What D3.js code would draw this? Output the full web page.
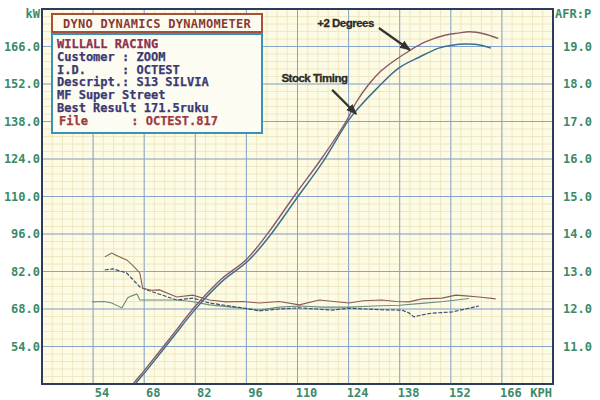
<!DOCTYPE html>
<html><head><meta charset="utf-8">
<script src="https://cdn.jsdelivr.net/npm/d3@7"></script>
<style>
html,body{margin:0;padding:0;background:#fff;}
svg{display:block;}
</style></head>
<body>
<svg id="c" width="600" height="400"></svg>
<script>
// ---- data ----
const kphTicks = [54, 68, 82, 96, 110, 124, 138, 152, 166];
const kwTicks = [54, 68, 82, 96, 110, 124, 138, 152, 166];
const afrTicks = [11, 12, 13, 14, 15, 16, 17, 18, 19];

const powerPlus2 = [[64,37],[65,40],[68,45],[75,57],[82,69],[89,79],[96,86.5],[102,96.5],[109,110],[116.5,124],[123.3,138],[126,145],[129.6,152],[133,157],[136,160.2],[141,164.7],[145,167.7],[150.6,170.3],[154,171],[157,171.5],[159,171.3],[162,170.4],[165,169]];
const powerStock = [[64.6,37],[65.6,40],[68.6,45],[75.6,57],[82.5,68.7],[89.5,78.5],[96.5,86],[102.5,95.5],[109.5,108.8],[117,123],[124,138.5],[127,143.5],[131.5,150],[137.8,158],[143.3,162],[148.7,165.4],[152.3,166.5],[156.1,166.9],[160,166.6],[163,165.4]];

const afrA = [[57.2,13.39],[59.1,13.49],[61,13.4],[63.2,13.31],[65,13.15],[66.8,12.96],[67.6,12.55],[70,12.5],[72.2,12.51],[76.9,12.32],[81.3,12.37],[85.9,12.24],[90.5,12.19],[95,12.2],[99.6,12.16],[105,12.2],[110.5,12.11],[116,12.24],[120,12.2],[124.1,12.16],[128,12.22],[133.2,12.24],[137,12.2],[140.5,12.19],[144.1,12.27],[149.6,12.29],[153.4,12.37],[156.1,12.35],[159.7,12.32],[164.3,12.27]];
const afrB = [[57.2,13.04],[59.4,13.07],[63.2,12.96],[66.8,12.59],[68.7,12.51],[72,12.4],[76.9,12.24],[81.3,12.29],[85.9,12.16],[90,12.1],[94.9,12.03],[99.6,11.95],[105,12.0],[110.5,12.03],[115,12.0],[119.5,11.97],[124,12.02],[128.8,12.0],[133,11.98],[138.6,11.97],[140.5,11.9],[141.9,11.79],[144,11.84],[146.8,11.89],[152.3,11.92],[156,12.0],[159.7,12.08]];
const afrC = [[53.7,12.19],[57,12.2],[59.1,12.16],[61.9,12.03],[63.5,12.3],[64.6,12.35],[66,12.4],[66.8,12.24],[70.3,12.24],[76.9,12.24],[81,12.2],[85.9,12.11],[92,12.05],[99.6,11.97],[105,12.05],[110.5,12.08],[117,12.05],[124,12.05],[131,12.08],[138,12.1],[144,12.15],[150,12.2],[157,12.28]];

const infoLines = [
  {t:"WILLALL RACING", c:"#8c3050"},
  {t:"Customer : ZOOM", c:"#3a3a72"},
  {t:"I.D.     : OCTEST", c:"#3a3a72"},
  {t:"Descript.: S13 SILVIA", c:"#3a3a72"},
  {t:"MF Super Street", c:"#3a3a72"},
  {t:"Best Result 171.5ruku", c:"#3a3a72"},
  {t:"File      : OCTEST.817", c:"#9a3a40"}
];

// ---- layout ----
const W = 600, H = 400;
const m = {l:42, r:47, t:9, b:16};
const svg = d3.select("#c");
const x = d3.scaleLinear().domain([40,180]).range([m.l, W-m.r]);
const y = d3.scaleLinear().domain([40,180]).range([H-m.b, m.t]);
const yR = d3.scaleLinear().domain([10,20]).range([H-m.b, m.t]);
const mono = "'DejaVu Sans Mono', 'Liberation Mono', monospace";
const green = "#3a8a68";

svg.append("rect").attr("x",m.l).attr("y",m.t).attr("width",x(180)-x(40)).attr("height",y(40)-y(180)).attr("fill","#fdfbe4");

// minor grid
const minorX = d3.range(40, 180.01, 2.8).map(v=>+v.toFixed(2));
const minorY = d3.range(40, 180.01, 2.8).map(v=>+v.toFixed(2));
const g = svg.append("g");
g.selectAll("line.mx").data(minorX).join("line").attr("x1",d=>x(d)).attr("x2",d=>x(d)).attr("y1",m.t).attr("y2",H-m.b).attr("stroke","#e8e4bc").attr("stroke-width",0.8);
g.selectAll("line.my").data(minorY).join("line").attr("y1",d=>y(d)).attr("y2",d=>y(d)).attr("x1",m.l).attr("x2",W-m.r).attr("stroke","#e8e4bc").attr("stroke-width",0.8);
// major grid
g.selectAll("line.Mx").data(kphTicks).join("line").attr("x1",d=>x(d)).attr("x2",d=>x(d)).attr("y1",m.t).attr("y2",H-m.b).attr("stroke","#86a4cc").attr("stroke-width",1);
g.selectAll("line.My").data(kwTicks).join("line").attr("y1",d=>y(d)).attr("y2",d=>y(d)).attr("x1",m.l).attr("x2",W-m.r).attr("stroke","#86a4cc").attr("stroke-width",1);

// curves
svg.append("clipPath").attr("id","pc").append("rect").attr("x",m.l).attr("y",m.t).attr("width",x(180)-x(40)).attr("height",y(40)-y(180));
const curves = svg.append("g").attr("clip-path","url(#pc)");
const lp = d3.line().x(d=>x(d[0])).y(d=>y(d[1])).curve(d3.curveCatmullRom);
const la = d3.line().x(d=>x(d[0])).y(d=>yR(d[1]));
curves.append("path").datum(afrC).attr("d",la).attr("fill","none").attr("stroke","#6c8c7c").attr("stroke-width",1.1);
curves.append("path").datum(afrB).attr("d",la).attr("fill","none").attr("stroke","#3e5070").attr("stroke-width",1.2).attr("stroke-dasharray","4,1.5");
curves.append("path").datum(afrA).attr("d",la).attr("fill","none").attr("stroke","#8a5c52").attr("stroke-width",1.1);
curves.append("path").datum(powerStock).attr("d",lp).attr("fill","none").attr("stroke","#3c6f8e").attr("stroke-width",1.5);
curves.append("path").datum(powerPlus2).attr("d",lp).attr("fill","none").attr("stroke","#8a5a68").attr("stroke-width",1.4);

// border
svg.append("rect").attr("x",m.l).attr("y",m.t).attr("width",x(180)-x(40)).attr("height",y(40)-y(180)).attr("fill","none").attr("stroke","#2c3c5e").attr("stroke-width",2);

// axes labels
const lab = svg.append("g").attr("font-family",mono).attr("font-weight","bold").attr("font-size",12).attr("fill",green);
lab.selectAll("text.yl").data(kwTicks).join("text").attr("x",m.l-2).attr("y",d=>y(d)+4).attr("text-anchor","end").text(d=>d.toFixed(1));
lab.selectAll("text.yr").data(afrTicks).join("text").attr("x",W-8).attr("y",d=>yR(d)+4).attr("text-anchor","end").text(d=>d.toFixed(1));
lab.selectAll("text.xl").data(kphTicks).join("text").attr("x",d=>x(d)+9).attr("y",H-3).attr("text-anchor","middle").text(d=>d);
lab.append("text").attr("x",m.l-2).attr("y",18).attr("text-anchor","end").text("kW");
lab.append("text").attr("x",W-m.r+2).attr("y",18).attr("text-anchor","start").text("AFR:P");
lab.append("text").attr("x",x(180)-1).attr("y",H-3).attr("text-anchor","end").text("KPH");

// info boxes
svg.append("rect").attr("x",52).attr("y",14).attr("width",210).attr("height",18).attr("fill","#fdfbee").attr("stroke","#a4503c").attr("stroke-width",2);
svg.append("text").attr("x",157).attr("y",27.5).attr("text-anchor","middle").attr("font-family",mono).attr("font-weight","bold").attr("font-size",12).attr("letter-spacing",0.3).attr("fill","#8a3a34").text("DYNO DYNAMICS DYNAMOMETER");
svg.append("rect").attr("x",52).attr("y",34).attr("width",210).attr("height",99).attr("fill","#fdfcf2").attr("stroke","#3a92b8").attr("stroke-width",2);
svg.append("g").selectAll("text").data(infoLines).join("text")
  .attr("x",(d,i)=> i===6 ? 59 : 57).attr("y",(d,i)=>48+i*12.8)
  .attr("font-family",mono).attr("font-weight","bold").attr("font-size",12).attr("fill",d=>d.c)
  .attr("stroke",d=>d.c).attr("stroke-width",0.25)
  .attr("xml:space","preserve").style("white-space","pre").text(d=>d.t);

// annotations
const defs = svg.append("defs");
defs.append("marker").attr("id","ah").attr("viewBox","0 0 10 10").attr("refX",9).attr("refY",5).attr("markerWidth",5).attr("markerHeight",5).attr("orient","auto")
  .append("path").attr("d","M0,1 L10,5 L0,9 Z").attr("fill","#333");
const notes = [
  {t:"+2 Degrees", tx:115.4, ty:173.4, x1:132.3, y1:172.9, x2:140.8, y2:164.7},
  {t:"Stock Timing", tx:105.6, ty:152.6, x1:119.5, y1:149.8, x2:126.1, y2:140.8}
];
const an = svg.append("g");
an.selectAll("line").data(notes).join("line").attr("x1",d=>x(d.x1)).attr("y1",d=>y(d.y1)).attr("x2",d=>x(d.x2)).attr("y2",d=>y(d.y2)).attr("stroke","#333").attr("stroke-width",2.2).attr("marker-end","url(#ah)");
an.selectAll("text").data(notes).join("text").attr("x",d=>x(d.tx)).attr("y",d=>y(d.ty)).attr("font-family","'Liberation Sans', Arial, sans-serif").attr("font-weight","bold").attr("font-size",11.5).attr("letter-spacing",-0.5).attr("fill","#2a2a2a").attr("stroke","#2a2a2a").attr("stroke-width",0.3).text(d=>d.t);
</script>
</body></html>
